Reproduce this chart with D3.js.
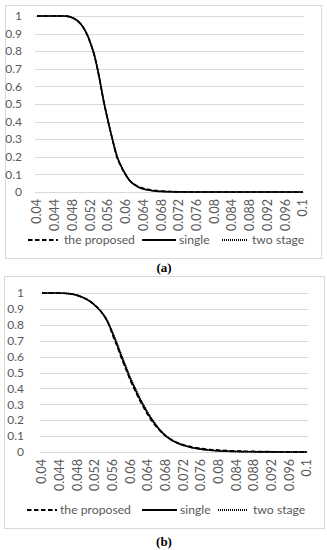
<!DOCTYPE html>
<html><head><meta charset="utf-8">
<script src="https://cdn.jsdelivr.net/npm/d3@7"></script>
<style>
html,body{margin:0;padding:0;background:#fff;}
svg{display:block;}
</style></head>
<body>
<svg id="chart" width="327" height="550"></svg>
<script>
// ---------- DATA ----------
const xValues = [0.040,0.041,0.042,0.043,0.044,0.045,0.046,0.047,0.048,0.049,
 0.050,0.051,0.052,0.053,0.054,0.055,0.056,0.057,0.058,0.059,
 0.060,0.061,0.062,0.063,0.064,0.065,0.066,0.067,0.068,0.069,
 0.070,0.071,0.072,0.073,0.074,0.075,0.076,0.077,0.078,0.079,
 0.080,0.081,0.082,0.083,0.084,0.085,0.086,0.087,0.088,0.089,
 0.090,0.091,0.092,0.093,0.094,0.095,0.096,0.097,0.098,0.099,0.100];

const xTickLabels = ["0.04","0.044","0.048","0.052","0.056","0.06","0.064","0.068",
 "0.072","0.076","0.08","0.084","0.088","0.092","0.096","0.1"];
const yTickLabels = ["0","0.1","0.2","0.3","0.4","0.5","0.6","0.7","0.8","0.9","1"];
const seriesNames = ["the proposed","single","two stage"];
const captions = ["(a)","(b)"];

// chart (a)
const aProposed = [1,1,1,1,1,1,1,0.998,0.99,0.975,
 0.95,0.91,0.85,0.77,0.655,0.52,0.405,0.30,0.20,0.142,
 0.097,0.063,0.043,0.030,0.021,0.015,0.011,0.008,0.006,0.004,
 0.003,0.002,0.0015,0.001,0.0007,0.0005,0.0003,0.0002,0.0001,0,
 0,0,0,0,0,0,0,0,0,0,
 0,0,0,0,0,0,0,0,0,0,0];
const aSingle = [1,1,1,1,1,1,1,0.998,0.99,0.975,
 0.95,0.91,0.85,0.77,0.655,0.52,0.405,0.30,0.205,0.145,
 0.098,0.062,0.040,0.026,0.017,0.011,0.007,0.0045,0.003,0.002,
 0.0012,0.0008,0.0005,0.0003,0.0002,0.0001,0,0,0,0,
 0,0,0,0,0,0,0,0,0,0,
 0,0,0,0,0,0,0,0,0,0,0];
const aTwoStage = [1,1,1,1,1,1,1,0.998,0.99,0.976,
 0.952,0.913,0.854,0.775,0.66,0.525,0.41,0.305,0.21,0.148,
 0.10,0.064,0.041,0.027,0.018,0.012,0.008,0.005,0.003,0.002,
 0.0012,0.0008,0.0005,0.0003,0.0002,0.0001,0,0,0,0,
 0,0,0,0,0,0,0,0,0,0,
 0,0,0,0,0,0,0,0,0,0,0];

// chart (b)
const bProposed = [1,1,1,1,0.999,0.998,0.996,0.992,0.985,0.975,
 0.962,0.945,0.922,0.895,0.86,0.81,0.735,0.665,0.59,0.52,
 0.45,0.39,0.332,0.28,0.232,0.19,0.155,0.125,0.10,0.082,
 0.067,0.055,0.046,0.038,0.032,0.027,0.023,0.019,0.016,0.014,
 0.012,0.010,0.0088,0.0076,0.0066,0.0057,0.005,0.0043,0.0037,0.0032,
 0.0028,0.0024,0.002,0.0017,0.0015,0.0012,0.001,0.0008,0.0006,0.0004,0.0003];
const bSingle = [1,1,1,1,0.999,0.998,0.996,0.992,0.985,0.975,
 0.962,0.945,0.922,0.895,0.86,0.81,0.745,0.675,0.60,0.53,
 0.46,0.40,0.34,0.29,0.24,0.198,0.16,0.128,0.102,0.082,
 0.065,0.052,0.042,0.034,0.027,0.022,0.018,0.014,0.011,0.009,
 0.007,0.0058,0.0047,0.0038,0.003,0.0025,0.002,0.0016,0.0013,0.001,
 0.0008,0.0007,0.0006,0.0005,0.0004,0.0003,0.0003,0.0002,0.0002,0.0001,0.0001];
const bTwoStage = [1,1,1,1,0.999,0.998,0.996,0.992,0.985,0.975,
 0.962,0.945,0.922,0.895,0.862,0.815,0.752,0.685,0.61,0.54,
 0.47,0.41,0.35,0.297,0.247,0.204,0.165,0.132,0.104,0.083,
 0.065,0.052,0.042,0.034,0.027,0.022,0.018,0.014,0.011,0.009,
 0.007,0.0058,0.0047,0.0038,0.003,0.0025,0.002,0.0016,0.0013,0.001,
 0.0008,0.0007,0.0006,0.0005,0.0004,0.0003,0.0003,0.0002,0.0002,0.0001,0.0001];

// ---------- LAYOUT ----------
const svg = d3.select("#chart");
const FONT = "Lato, 'Open Sans', sans-serif";
const TXT = "#595959";
const GRID = "#d9d9d9";
const dashStyles = ["4.5,2.5", null, "1,1"];

const panels = [
  {series:[aProposed,aSingle,aTwoStage], box:[5,5,316,253], x0:37, x1:303, gx0:35, gx1:304,
   yTop:16, yBot:192, yLabX:22, xLabY:199, legY:240, legX:[[28,58,64],[142,176,179],[222,248,252]], capY:267},
  {series:[bProposed,bSingle,bTwoStage], box:[4,276,320,252], x0:42, x1:307, gx0:40, gx1:308,
   yTop:293, yBot:452, yLabX:24, xLabY:459, legY:510, legX:[[27,57,60],[142,177,180],[218,248,253]], capY:541}
];

panels.forEach((p, pi) => {
  const g = svg.append("g");
  g.append("rect").attr("x", p.box[0]+0.5).attr("y", p.box[1]+0.5)
    .attr("width", p.box[2]).attr("height", p.box[3])
    .attr("fill", "#fff").attr("stroke", GRID).attr("stroke-width", 1);

  const x = d3.scaleLinear().domain([0.04, 0.1]).range([p.x0, p.x1]);
  const y = d3.scaleLinear().domain([0, 1]).range([p.yBot, p.yTop]);

  // gridlines
  g.selectAll(".grid").data(yTickLabels).join("line")
    .attr("x1", p.gx0).attr("x2", p.gx1)
    .attr("y1", d => Math.round(y(+d))+0.5).attr("y2", d => Math.round(y(+d))+0.5)
    .attr("stroke", GRID).attr("stroke-width", 1);

  // y labels
  g.selectAll(".ylab").data(yTickLabels).join("text")
    .attr("x", p.yLabX).attr("y", d => y(+d)).attr("dy", "0.35em")
    .attr("text-anchor", "end").attr("fill", TXT)
    .style("font-family", FONT).style("font-size", "12px").text(d => d);

  // x labels (rotated)
  g.selectAll(".xlab").data(xTickLabels).join("text")
    .attr("transform", d => `translate(${x(+d)},${p.xLabY}) rotate(-90)`)
    .attr("dy", "0.35em").attr("text-anchor", "end").attr("fill", TXT)
    .style("font-family", FONT).style("font-size", "12.5px").text(d => d);

  // lines
  const line = d3.line().x((d,i) => x(xValues[i])).y(d => y(d)).curve(d3.curveMonotoneX);
  [1,2,0].forEach(si => {
    g.append("path").datum(p.series[si]).attr("d", line)
      .attr("fill", "none").attr("stroke", "#000").attr("stroke-width", 1.6)
      .attr("stroke-dasharray", dashStyles[si]);
  });

  // legend
  seriesNames.forEach((name, si) => {
    const L = p.legX[si];
    g.append("line").attr("x1", L[0]).attr("x2", L[1]).attr("y1", p.legY).attr("y2", p.legY)
      .attr("stroke", "#000").attr("stroke-width", 1.8).attr("stroke-dasharray", dashStyles[si]);
    g.append("text").attr("x", L[2]).attr("y", p.legY).attr("dy", "0.35em")
      .attr("fill", TXT).style("font-family", FONT).style("font-size", "12.2px").text(name);
  });

  // caption
  svg.append("text").attr("x", 164).attr("y", p.capY).attr("dy", "0.35em")
    .attr("text-anchor", "middle").attr("fill", "#000")
    .style("font-family", "'Liberation Serif', 'DejaVu Serif', serif")
    .style("font-weight", "bold").style("font-size", "13px").text(captions[pi]);
});
</script>
</body></html>
